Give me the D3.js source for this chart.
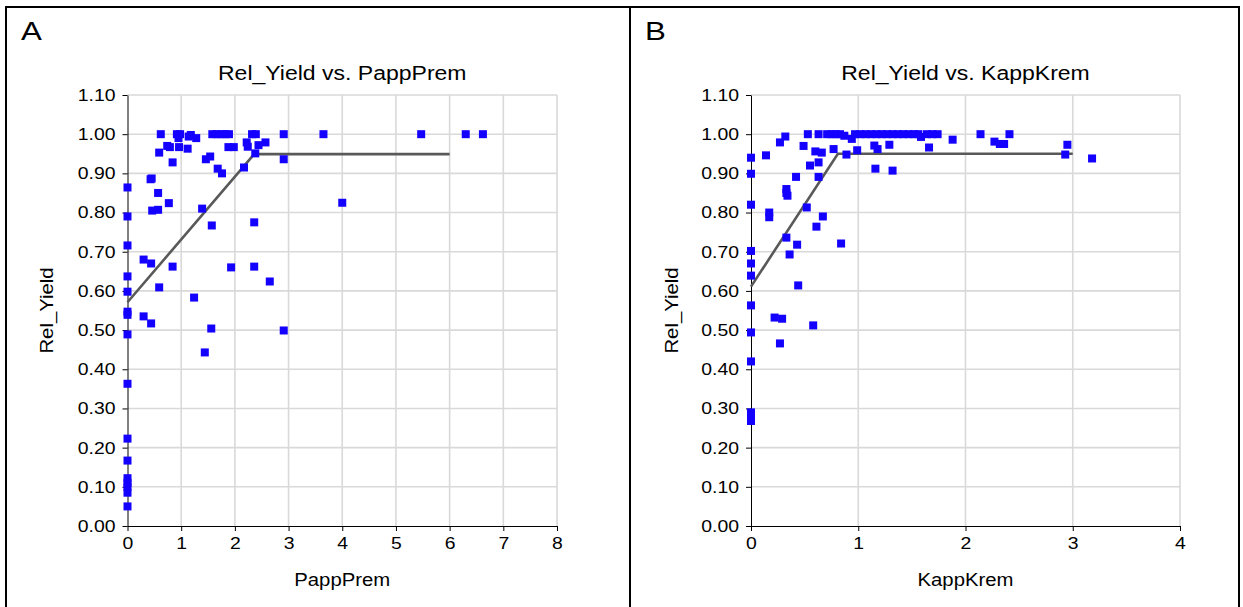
<!DOCTYPE html>
<html>
<head>
<meta charset="utf-8">
<script src="https://cdn.jsdelivr.net/npm/d3@7"></script>
<style>
html,body{margin:0;padding:0;background:#fff;}
svg{display:block;}
text{font-family:"Liberation Sans",Arial,sans-serif;fill:#000;}
</style>
</head>
<body>
<svg id="chart" width="1243" height="607"></svg>
<script>
// ---------- DATA ----------
const pappX = [0,0,0,0,0,0,0,0,0,0,0,0,0,0,0,0,
  0.62,0.92,0.98,0.95,1.14,1.18,1.28,
  1.58,1.66,1.74,1.82,1.89,
  2.32,2.39,2.91,3.65,5.47,6.30,6.62,
  0.74,0.79,0.96,1.12,0.59,0.84,
  1.88,1.98,2.22,2.24,2.44,2.57,2.38,2.91,
  1.46,1.54,1.68,1.76,2.17,
  0.43,0.45,0.57,0.77,0.46,0.57,1.39,
  1.57,2.36,0.30,0.44,0.84,1.93,2.36,2.65,
  0.59,1.24,0.30,0.44,1.56,2.91,1.44,4.00];
const pappY = [0.864,0.790,0.716,0.637,0.598,0.547,0.539,0.489,0.363,0.223,0.167,0.122,0.110,0.100,0.085,0.050,
  1.00,1.00,1.00,0.99,0.994,0.998,0.99,
  1.00,1.00,1.00,1.00,1.00,
  1.00,1.00,1.00,1.00,1.00,1.00,1.00,
  0.970,0.967,0.967,0.963,0.953,0.928,
  0.967,0.967,0.979,0.968,0.972,0.979,0.951,0.936,
  0.936,0.943,0.912,0.900,0.915,
  0.885,0.887,0.850,0.824,0.805,0.807,0.810,
  0.767,0.775,0.680,0.670,0.662,0.660,0.662,0.624,
  0.609,0.583,0.535,0.517,0.504,0.499,0.443,0.825];

const kappX = [0,0,0,0,0,0,0,0,0,0,0,0,
  0.14,0.27,0.32,
  0.53,0.63,0.71,0.75,0.79,0.83,0.97,1.02,1.07,1.12,1.17,1.22,1.27,1.32,1.37,1.42,1.47,1.52,1.56,1.64,1.69,1.74,2.14,2.41,
  0.87,0.94,1.585,1.88,
  0.49,0.60,0.66,0.77,0.89,0.99,1.15,1.18,1.29,1.66,
  2.27,2.32,2.36,2.95,2.93,3.18,
  1.16,1.32,0.55,0.63,0.63,0.42,
  0.33,0.33,0.34,0.17,0.17,0.52,0.67,0.61,
  0.33,0.43,0.84,0.36,0.44,
  0.22,0.29,0.58,0.27];
const kappY = [0.940,0.899,0.820,0.702,0.670,0.639,0.563,0.494,0.420,0.290,0.280,0.268,
  0.946,0.979,0.994,
  1.00,1.00,1.00,1.00,1.00,1.00,1.00,1.00,1.00,1.00,1.00,1.00,1.00,1.00,1.00,1.00,1.00,1.00,1.00,1.00,1.00,1.00,1.00,1.00,
  0.996,0.988,0.993,0.986,
  0.970,0.956,0.953,0.962,0.948,0.959,0.971,0.962,0.973,0.966,
  0.981,0.975,0.975,0.973,0.948,0.938,
  0.912,0.907,0.920,0.928,0.891,0.891,
  0.860,0.850,0.843,0.800,0.788,0.813,0.790,0.764,
  0.736,0.718,0.721,0.693,0.614,
  0.532,0.529,0.512,0.466];

// fitted linear-plateau lines
const pappFitX = [0, 2.36, 6.0];
const pappFitY = [0.571, 0.949, 0.949];
const kappFitX = [0, 0.81, 3.0];
const kappFitY = [0.611, 0.950, 0.950];

const yTicks = [0,0.1,0.2,0.3,0.4,0.5,0.6,0.7,0.8,0.9,1.0,1.1];
const pappTicks = [0,1,2,3,4,5,6,7,8];
const kappTicks = [0,1,2,3,4];

// ---------- DRAW ----------
const svg = d3.select("#chart");
function stretch(sel, f){
  sel.each(function(){
    const L = this.getComputedTextLength();
    if (L > 0) {
      this.setAttribute("textLength", (L*f).toFixed(2));
      this.setAttribute("lengthAdjust","spacingAndGlyphs");
    }
  });
}

// frame
const frame = svg.append("g").attr("stroke","#000").attr("stroke-width",2).attr("fill","none");
frame.append("line").attr("x1",6).attr("x2",1239).attr("y1",7).attr("y2",7);
frame.append("line").attr("x1",6).attr("x2",6).attr("y1",6).attr("y2",607);
frame.append("line").attr("x1",630).attr("x2",630).attr("y1",6).attr("y2",607);
frame.append("line").attr("x1",1239).attr("x2",1239).attr("y1",6).attr("y2",607);

function panel(cfg){
  const g = svg.append("g");
  const x = d3.scaleLinear().domain(cfg.xDomain).range([cfg.x0, cfg.x1]);
  const y = d3.scaleLinear().domain([0,1.1]).range([526, 95]);

  // gridlines
  const grid = g.append("g").attr("stroke","#d9d9d9").attr("stroke-width",1.6);
  grid.selectAll("line.h").data(yTicks.slice(1)).join("line")
    .attr("x1",cfg.x0).attr("x2",cfg.x1).attr("y1",d=>y(d)).attr("y2",d=>y(d));
  grid.selectAll("line.v").data(cfg.xTicks.slice(1)).join("line")
    .attr("x1",d=>x(d)).attr("x2",d=>x(d)).attr("y1",y(0)).attr("y2",y(1.1));

  // axes
  const ya = g.append("g").attr("transform",`translate(${cfg.x0},0)`)
    .call(d3.axisLeft(y).tickValues(yTicks).tickFormat(d3.format(".2f")).tickSize(5).tickPadding(7).tickSizeOuter(0));
  const xa = g.append("g").attr("transform",`translate(0,${y(0)})`)
    .call(d3.axisBottom(x).tickValues(cfg.xTicks).tickFormat(d3.format("d")).tickSize(5).tickPadding(6).tickSizeOuter(0));
  [ya,xa].forEach(a=>{
    a.selectAll("path,line").attr("stroke","#000").attr("stroke-width",1);
    a.selectAll("text").attr("font-size",17).attr("font-family","Liberation Sans, Arial, sans-serif").attr("fill","#000");
    stretch(a.selectAll("text"), 1.14);
  });

  // fitted line
  const fit = cfg.fitX.map((d,i)=>[d,cfg.fitY[i]]);
  g.append("path").datum(fit)
    .attr("fill","none").attr("stroke","#595959").attr("stroke-width",2.6)
    .attr("d", d3.line().x(d=>x(d[0])).y(d=>y(d[1])));

  // points
  const pts = cfg.px.map((d,i)=>[d,cfg.py[i]]);
  g.append("g").selectAll("rect").data(pts).join("rect")
    .attr("x",d=>x(d[0])-4).attr("y",d=>y(d[1])-4)
    .attr("width",8).attr("height",8).attr("fill","#1400ff");

  // texts
  const cx = (cfg.x0+cfg.x1)/2;
  const t1 = g.append("text").attr("x",cfg.letterX).attr("y",39.5).attr("font-size",25).text(cfg.letter);
  const t2 = g.append("text").attr("x",cx).attr("y",80).attr("text-anchor","middle").attr("font-size",19.5).text(cfg.title);
  const t3 = g.append("text").attr("x",cx).attr("y",586).attr("text-anchor","middle").attr("font-size",17.5).text(cfg.xLabel);
  const t4 = g.append("text").attr("transform",`translate(${cfg.yLabelX},310.5) rotate(-90)`)
    .attr("text-anchor","middle").attr("font-size",17.5).text("Rel_Yield");
  stretch(t1, 1.25);
  stretch(t2, 1.18);
  stretch(t3, 1.16);
  stretch(t4, 1.16);
}

panel({xDomain:[0,8], x0:127.5, x1:557, xTicks:pappTicks, px:pappX, py:pappY,
  fitX:pappFitX, fitY:pappFitY, letter:"A", letterX:21, title:"Rel_Yield vs. PappPrem",
  xLabel:"PappPrem", yLabelX:53});
panel({xDomain:[0,4], x0:751, x1:1180, xTicks:kappTicks, px:kappX, py:kappY,
  fitX:kappFitX, fitY:kappFitY, letter:"B", letterX:645, title:"Rel_Yield vs. KappKrem",
  xLabel:"KappKrem", yLabelX:678});
</script>
</body>
</html>
